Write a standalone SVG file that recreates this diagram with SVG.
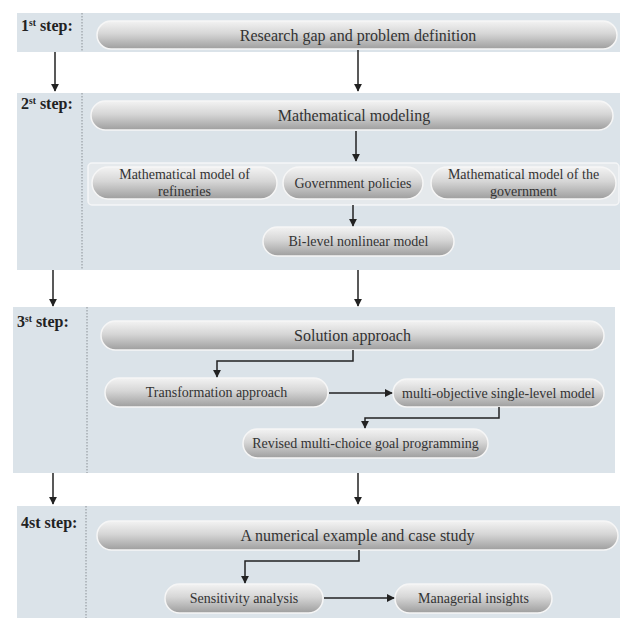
<svg xmlns="http://www.w3.org/2000/svg" width="620" height="618" viewBox="0 0 620 618">
<style>
.band{fill:#dbe3e9}
.div{stroke:#8a9096;stroke-width:1;stroke-dasharray:1.5,1.5;fill:none}
.pill{fill:url(#g);stroke:#f6f6f6;stroke-width:1.5}
.cont{fill:#e5e9ec;stroke:#f5f6f7;stroke-width:1.5}
.t{font-family:"Liberation Serif","Times New Roman",serif;fill:#333;text-anchor:middle}
.big{font-size:16px}
.sm{font-size:14px}
.lab{font-family:"Liberation Serif","Times New Roman",serif;font-weight:bold;font-size:16px;fill:#222}
.sup{font-size:9.5px}
.c{stroke:#222;stroke-width:1.5;fill:none;marker-end:url(#a)}
</style>
<defs>
<linearGradient id="g" x1="0" y1="0" x2="0" y2="1">
<stop offset="0" stop-color="#f3f3f3"/>
<stop offset="0.45" stop-color="#d6d6d6"/>
<stop offset="1" stop-color="#9e9e9e"/>
</linearGradient>
<marker id="a" viewBox="0 0 10 10" refX="9" refY="5" markerWidth="5.5" markerHeight="5.5" orient="auto" markerUnits="strokeWidth">
<path d="M0,0 L10,5 L0,10 z" fill="#222"/>
</marker>
</defs>
<rect width="620" height="618" fill="#ffffff"/>

<g id="band1">
<rect class="band" x="17" y="13" width="603" height="39"/>
<line class="div" x1="82" y1="13" x2="82" y2="52"/>
<text class="lab" x="21" y="31">1<tspan class="sup" dy="-5">st</tspan><tspan dy="5"> step:</tspan></text>
</g>
<g id="band2">
<rect class="band" x="17" y="93" width="603" height="177"/>
<line class="div" x1="82" y1="93" x2="82" y2="270"/>
<text class="lab" x="21" y="109">2<tspan class="sup" dy="-5">st</tspan><tspan dy="5"> step:</tspan></text>
</g>
<g id="band3">
<rect class="band" x="13" y="307" width="602" height="166"/>
<line class="div" x1="87" y1="307" x2="87" y2="473"/>
<text class="lab" x="17" y="327">3<tspan class="sup" dy="-5">st</tspan><tspan dy="5"> step:</tspan></text>
</g>
<g id="band4">
<rect class="band" x="17" y="506" width="603" height="112"/>
<line class="div" x1="86" y1="506" x2="86" y2="618"/>
<text class="lab" x="21" y="528">4st step:</text>
</g>

<g id="n1"><rect class="pill" x="97" y="21" width="520" height="28" rx="14"/><text class="t big" x="358" y="40.5">Research gap and problem definition</text></g>
<g id="n2"><rect class="pill" x="91" y="101" width="522" height="29" rx="14.5"/><text class="t big" x="354" y="120.5">Mathematical modeling</text></g>
<g id="grp"><rect class="cont" x="88" y="163" width="531" height="42" rx="4"/></g>
<g id="n3"><rect class="pill" x="92" y="167" width="185" height="32" rx="16"/><text class="t sm" x="184.5" y="179">Mathematical model of</text><text class="t sm" x="184.5" y="196">refineries</text></g>
<g id="n4"><rect class="pill" x="283" y="167" width="140" height="32" rx="16"/><text class="t sm" x="353" y="188">Government policies</text></g>
<g id="n5"><rect class="pill" x="431" y="167" width="185" height="32" rx="16"/><text class="t sm" x="523.5" y="179">Mathematical model of the</text><text class="t sm" x="523.5" y="196">government</text></g>
<g id="n6"><rect class="pill" x="263" y="227" width="191" height="29" rx="14.5"/><text class="t sm" x="358.5" y="246">Bi-level nonlinear model</text></g>
<g id="n7"><rect class="pill" x="101" y="321" width="503" height="29" rx="14.5"/><text class="t big" x="352.5" y="340.5">Solution approach</text></g>
<g id="n8"><rect class="pill" x="105" y="378" width="223" height="29" rx="14.5"/><text class="t sm" x="216.5" y="397">Transformation approach</text></g>
<g id="n9"><rect class="pill" x="393" y="379" width="211" height="28" rx="14"/><text class="t sm" x="498.5" y="397.5">multi-objective single-level model</text></g>
<g id="n10"><rect class="pill" x="243" y="429" width="245" height="29" rx="14.5"/><text class="t sm" x="365.5" y="448">Revised multi-choice goal programming</text></g>
<g id="n11"><rect class="pill" x="97" y="521" width="521" height="29" rx="14.5"/><text class="t big" x="357.5" y="540.5">A numerical example and case study</text></g>
<g id="n12"><rect class="pill" x="165" y="584" width="158" height="29" rx="14.5"/><text class="t sm" x="244" y="603">Sensitivity analysis</text></g>
<g id="n13"><rect class="pill" x="395" y="584" width="157" height="29" rx="14.5"/><text class="t sm" x="473.5" y="603">Managerial insights</text></g>

<g id="connectors">
<path class="c" d="M55,52 V91"/>
<path class="c" d="M358,50 V91"/>
<path class="c" d="M356,131 V161"/>
<path class="c" d="M353,205 V226"/>
<path class="c" d="M53,270 V306"/>
<path class="c" d="M358,270 V306"/>
<path class="c" d="M353,350 V361 H217 V377"/>
<path class="c" d="M329,393 H392"/>
<path class="c" d="M499,407 V418 H365 V428"/>
<path class="c" d="M53,473 V504"/>
<path class="c" d="M358,473 V504"/>
<path class="c" d="M359,550 V561 H245 V583"/>
<path class="c" d="M324,598 H394"/>
</g>
</svg>
